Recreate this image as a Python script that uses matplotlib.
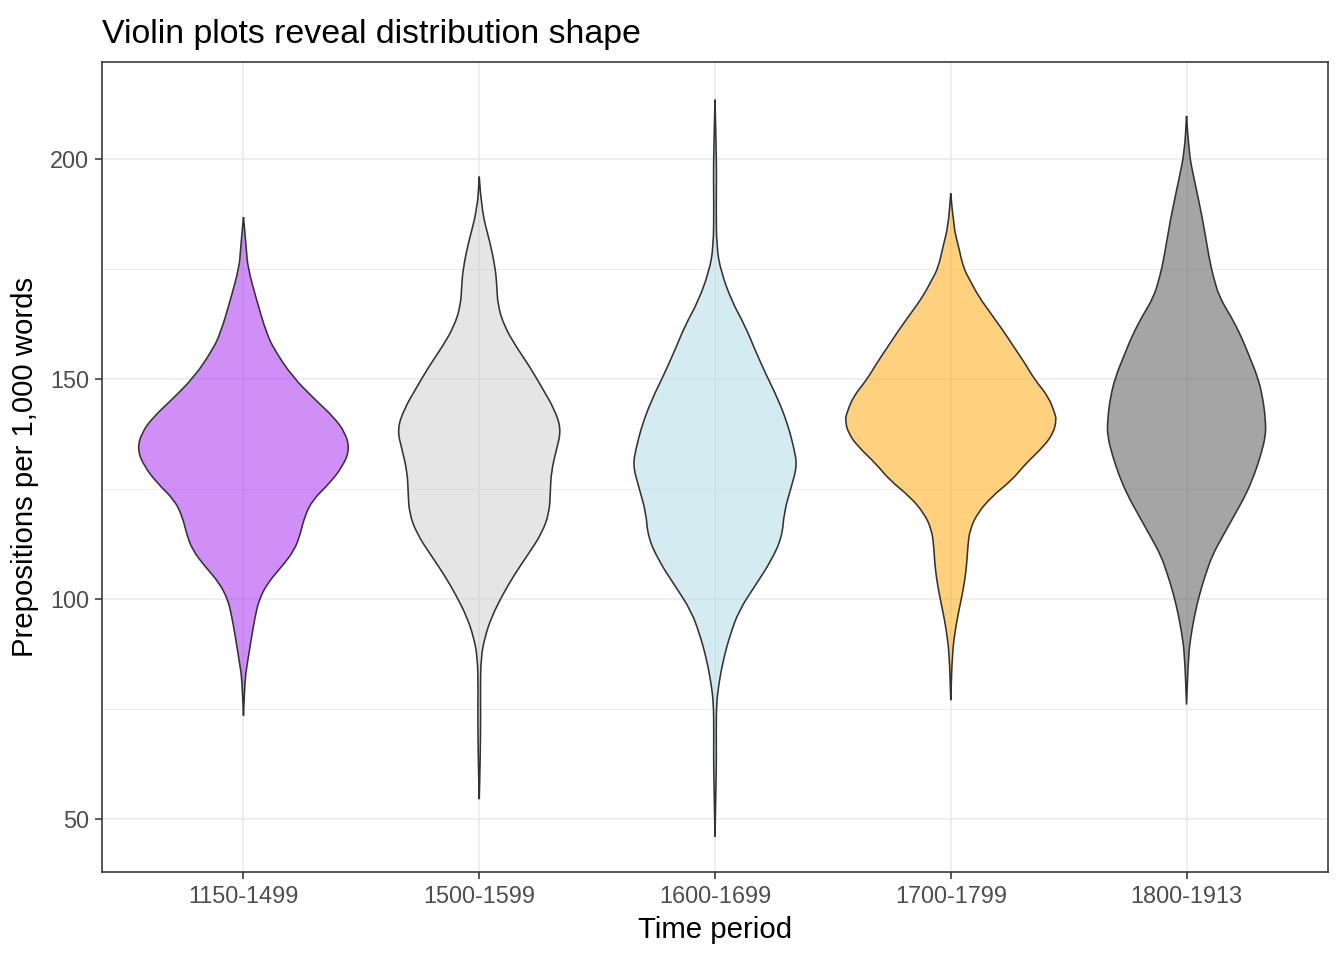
import matplotlib.pyplot as plt
from matplotlib.path import Path
from matplotlib.patches import PathPatch
from matplotlib.colors import to_rgba

plt.rcParams['font.family'] = ['Liberation Sans', 'DejaVu Sans']

periods = ['1150-1499', '1500-1599', '1600-1699', '1700-1799', '1800-1913']
fills = ['#A020F0', '#CCCCCC', '#ADD8E6', '#FFA500', '#4D4D4D']

# density outline of each violin: y value -> relative density
y_1150 = [186.8, 179.3, 175.5, 168.0, 160.4, 156.6, 150.5, 145.2, 141.4, 137.7, 133.9,
          130.1, 126.3, 122.5, 118.7, 114.9, 111.1, 107.3, 103.6, 99.8, 96.0, 92.2,
          88.4, 84.6, 81.6, 73.5]
d_1150 = [0, 3, 4.2, 13, 23, 31, 49, 72, 90, 102, 106,
          99, 86, 69, 61, 57, 51, 38, 24, 15.5, 11.7, 8.7,
          6, 3.3, 1.5, 0]

y_1500 = [196.0, 188.5, 180.9, 175.2, 171.5, 166.8, 162.0, 157.3, 152.6, 147.9, 143.2,
          138.5, 133.8, 129.0, 124.3, 119.6, 114.9, 110.2, 105.5, 100.8, 96.0, 91.3,
          86.6, 80.0, 74.0, 68.0, 62.0, 54.5]
d_1500 = [0, 2, 11, 16, 17.5, 18.5, 25, 37, 51, 63, 75,
          82, 77, 72, 71, 70, 62.5, 49, 35, 23, 12.5, 5.5,
          1.7, 1.2, 1.4, 1.2, 0.8, 0]

y_1600 = [213.5, 202.0, 196.0, 190.0, 180.0, 174.4, 167.7, 162.1, 156.6, 151.0, 145.4,
          139.8, 134.2, 130.3, 125.3, 119.7, 114.1, 108.6, 103.0, 97.4, 91.8, 86.2,
          80.6, 76.2, 70.0, 64.0, 58.0, 46.0]
d_1600 = [0, 1.2, 1.5, 1.2, 1.5, 6, 16.7, 30, 40, 51, 63,
          72.5, 79, 82, 76, 69, 67, 56, 40, 24, 15, 8.3,
          3.7, 1.5, 1.2, 1.4, 1.0, 0]

y_1700 = [192.2, 184.6, 180.1, 175.3, 172.5, 168.7, 164.9, 161.1, 157.3, 153.6, 149.8,
          146.0, 142.2, 140.7, 137.7, 134.6, 130.8, 127.0, 123.3, 119.5, 115.7, 111.9,
          108.1, 104.3, 100.5, 96.7, 93.0, 87.7, 77.0]
d_1700 = [0, 2.7, 7.8, 12.5, 19, 28, 40, 52, 63, 74, 84,
          97.5, 104, 105.5, 102.5, 92.5, 75, 61, 41, 26.7, 19, 17,
          16, 14, 11, 7.5, 4.5, 1.5, 0]

y_1800 = [209.8, 201.7, 195.5, 186.5, 177.5, 173.0, 168.5, 164.0, 159.5, 155.0, 150.5,
          146.0, 140.6, 137.0, 132.6, 128.1, 123.6, 119.1, 114.6, 110.1, 105.6, 101.1,
          96.6, 92.1, 87.6, 76.0]
d_1800 = [0, 2, 7.5, 16, 22.5, 27, 33, 45, 55, 63, 71,
          76, 79, 79, 74, 67.5, 59, 48, 37, 26, 19, 13,
          8.3, 4.7, 2, 0]

ys = [y_1150, y_1500, y_1600, y_1700, y_1800]
ds = [d_1150, d_1500, d_1600, d_1700, d_1800]


def violin_path(x0, y, half):
    # outline: right side top->bottom, then left side bottom->top
    pts = [(x0 + h, v) for v, h in zip(y, half)]
    pts += [(x0 - h, v) for v, h in zip(y[::-1], half[::-1])]
    verts = [pts[0]]
    codes = [Path.MOVETO]
    for i in range(1, len(pts) - 1):  # smooth corners with quadratic curves
        mid = ((pts[i][0] + pts[i + 1][0]) / 2, (pts[i][1] + pts[i + 1][1]) / 2)
        verts += [pts[i], mid]
        codes += [Path.CURVE3, Path.CURVE3]
    verts.append(pts[-1])
    codes.append(Path.LINETO)
    return Path(verts, codes)


fig = plt.figure(figsize=(7, 5), dpi=192)
ax = fig.add_axes([0.0759, 0.0917, 0.9122, 0.8437])

dmax = max(max(d) for d in ds)
for i in range(len(periods)):
    half = [v / dmax * 0.45 for v in ds[i]]
    p = violin_path(i + 1, ys[i], half)
    ax.add_patch(PathPatch(p, facecolor=to_rgba(fills[i], 0.5), edgecolor='#333333',
                           lw=0.6, zorder=2))

ax.set_xlim(0.4, 5.6)
ax.set_ylim(37.95, 222.05)
ax.set_xticks(range(1, 6))
ax.set_xticklabels(periods)
ax.set_yticks([50, 100, 150, 200])
ax.set_yticks([75, 125, 175], minor=True)
ax.set_xticks([], minor=True)

ax.set_axisbelow(True)
ax.grid(which='major', color='#EBEBEB', lw=0.6)
ax.grid(which='minor', axis='y', color='#EBEBEB', lw=0.35)
for s in ax.spines.values():
    s.set_color('#333333')
    s.set_linewidth(0.6)

ax.tick_params(which='major', length=2.75, width=0.6, color='#333333',
               labelsize=8.8, labelcolor='#4D4D4D', pad=2.2)
ax.tick_params(which='minor', length=0)

ax.set_xlabel('Time period', fontsize=11, labelpad=3)
ax.set_ylabel('Prepositions per 1,000 words', fontsize=11, labelpad=4)
ax.set_title('Violin plots reveal distribution shape', fontsize=12.7, loc='left', pad=7)

fig.savefig('out.png', dpi=192)
